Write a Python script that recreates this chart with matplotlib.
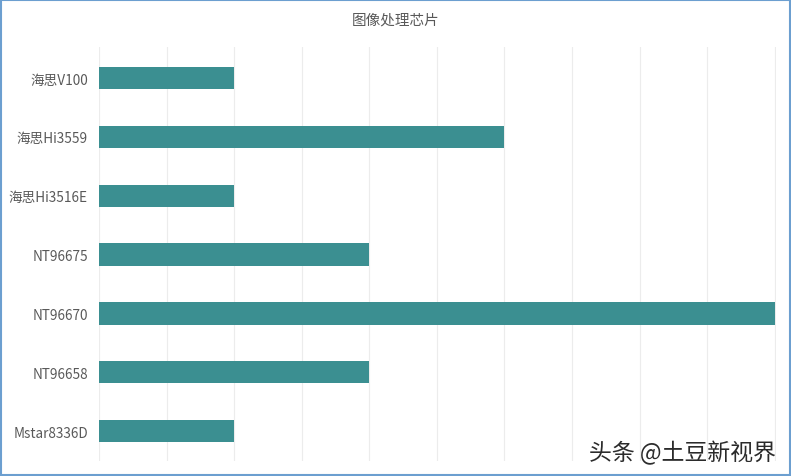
import matplotlib.pyplot as plt
from matplotlib.patches import Rectangle

plt.rcParams['font.family'] = ['Noto Sans CJK SC', 'DejaVu Sans']

chips = ['海思V100', '海思Hi3559', '海思Hi3516E', 'NT96675', 'NT96670', 'NT96658', 'Mstar8336D']
counts = [2, 6, 2, 4, 10, 4, 2]

fig = plt.figure(figsize=(7.91, 4.77), dpi=100)
ax = fig.add_axes([0.1252, 0.0314, 0.8558, 0.868])

ypos = list(range(len(chips)))
ax.barh(ypos, counts, height=0.38, color='#3b8f91', zorder=3)
ax.set_yticks(ypos)
ax.set_yticklabels(chips, fontsize=9.8, color='#595959')
ax.set_ylim(6.51, -0.53)
ax.set_xlim(0, 10.02)
ax.set_xticks(range(0, 11))
ax.set_xticklabels([])
ax.tick_params(axis='both', length=0)
ax.tick_params(axis='y', pad=8)
ax.grid(axis='x', color='#ececec', linewidth=0.8, zorder=0)
for s in ax.spines.values():
    s.set_visible(False)

fig.text(0.5, 0.958, '图像处理芯片', ha='center', va='center', fontsize=10.5, color='#595959')
fig.text(0.981, 0.05, '头条 @土豆新视界', ha='right', va='center', fontsize=16.5, color='#2b2b2b')

fig.patches.append(Rectangle((0.001, 0.002), 0.998, 0.996, transform=fig.transFigure,
                             fill=False, edgecolor='#6c9fd0', linewidth=1.5))

fig.savefig('out.png', dpi=100)
